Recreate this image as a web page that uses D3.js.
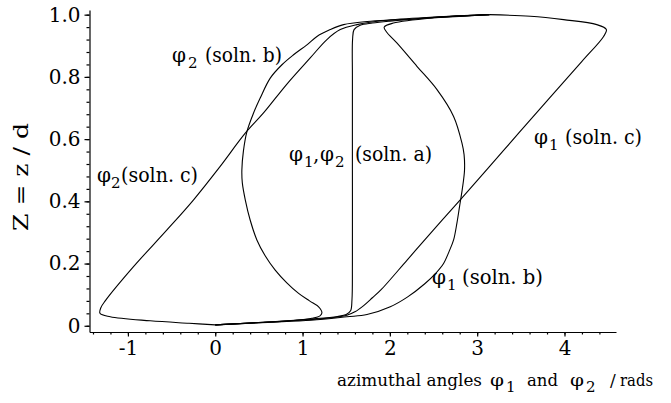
<!DOCTYPE html>
<html>
<head>
<meta charset="utf-8">
<script src="https://cdn.jsdelivr.net/npm/d3@7"></script>
<style>
  body { margin: 0; background: #fff; }
  svg { font-family: "DejaVu Serif"; }
  .curve { fill: none; stroke: #000; stroke-width: 1.1; }
  .axis path, .axis line { stroke: #000; stroke-width: 1.2; }
  .axis text { fill: #000; }
</style>
</head>
<body>
<svg width="671" height="403"></svg>
<script>
// curves: [phi (rad), Z]
var solnA = [[0,0.003],[0.6,0.012],[1.1,0.022],[1.4,0.03],[1.5,0.036],[1.55,0.048],[1.566,0.083],[1.571,0.2],
  [1.571,0.5],[1.571,0.8],[1.573,0.92],[1.59,0.952],[1.66,0.966],[1.8,0.973],[2.0,0.979],[2.5,0.99],[3.0,0.998],[3.14,1.0]];

var solnB_phi2 = [[0,0.003],[0.5,0.01],[0.9,0.017],[1.107,0.024],[1.2,0.032],[1.222,0.042],[1.184,0.061],[1.08,0.08],
  [0.955,0.104],[0.82,0.138],[0.687,0.179],[0.57,0.226],[0.477,0.276],[0.4,0.34],[0.344,0.405],[0.31,0.46],
  [0.305,0.501],[0.322,0.56],[0.363,0.624],[0.439,0.684],[0.515,0.732],[0.63,0.796],[0.764,0.839],[0.897,0.871],
  [1.05,0.903],[1.165,0.93],[1.317,0.952],[1.47,0.968],[1.74,0.978],[2.12,0.984],[2.6,0.993],[3.14,1.0]];

var solnB_phi1 = [[0,0.003],[0.6,0.011],[1.1,0.018],[1.508,0.029],[1.738,0.036],[2.005,0.061],[2.2,0.092],[2.4,0.135],
  [2.53,0.17],[2.615,0.2],[2.68,0.24],[2.73,0.276],[2.768,0.33],[2.798,0.383],[2.83,0.44],[2.855,0.5],[2.85,0.55],
  [2.826,0.587],[2.73,0.673],[2.54,0.759],[2.31,0.834],[2.08,0.909],[1.96,0.945],[1.935,0.96],[2.04,0.973],
  [2.5,0.99],[3.14,1.0]];

var solnC_phi2 = [[0,0.003],[-0.3,0.008],[-0.745,0.016],[-1.203,0.029],[-1.32,0.04],[-1.31,0.058],[-1.26,0.08],
  [-0.936,0.19],[-0.553,0.308],[-0.248,0.405],[0.05,0.51],[0.344,0.619],[0.553,0.684],[0.821,0.777],[1.088,0.861],
  [1.279,0.92],[1.432,0.952],[1.623,0.968],[1.93,0.981],[2.5,0.992],[3.14,1.0]];

var solnC_phi1 = [[0,0.003],[0.6,0.012],[1.1,0.02],[1.508,0.034],[1.6,0.045],[1.7,0.065],[1.8,0.09],[1.9,0.116],
  [2.2,0.212],[2.5,0.308],[2.806,0.405],[3.3,0.563],[3.8,0.723],[4.2,0.85],[4.448,0.93],[4.48,0.952],[4.37,0.968],
  [3.99,0.984],[3.61,0.995],[3.14,1.0]];

var curves = [solnA, solnB_phi2, solnB_phi1, solnC_phi2, solnC_phi1];

var xTicks = [-1, 0, 1, 2, 3, 4];
var yTicks = [0, 0.2, 0.4, 0.6, 0.8, 1.0];

var svg = d3.select("svg");
var margin = {left: 89.5, top: 10, right: 55, bottom: 71};
var width = 671 - margin.left - margin.right;
var height = 403 - margin.top - margin.bottom;

var x = d3.scaleLinear().domain([-1.44, 4.59]).range([0, width]);
var y = d3.scaleLinear().domain([-0.02, 1.015]).range([height, 0]);

var g = svg.append("g").attr("transform", "translate(" + margin.left + "," + margin.top + ")");

// minor ticks
g.append("g").attr("class", "axis")
  .attr("transform", "translate(0," + height + ")")
  .call(d3.axisBottom(x).tickValues(d3.range(-1.4, 4.59, 0.2)).tickSize(2.5).tickFormat(""))
  .select(".domain").remove();
g.append("g").attr("class", "axis")
  .call(d3.axisLeft(y).tickValues(d3.range(0, 1.001, 0.04)).tickSize(3).tickFormat(""))
  .select(".domain").remove();

var xAxis = g.append("g").attr("class", "axis")
  .attr("transform", "translate(0," + height + ")")
  .call(d3.axisBottom(x).tickValues(xTicks).tickSize(4.5).tickSizeOuter(0).tickPadding(4)
    .tickFormat(function(d) { return d < 0 ? "-" + Math.abs(d) : d; }));

var yAxis = g.append("g").attr("class", "axis")
  .call(d3.axisLeft(y).tickValues(yTicks).tickSize(5).tickSizeOuter(0).tickPadding(4)
    .tickFormat(function(d) { return d === 0 ? "0" : d3.format(".1f")(d); }));

xAxis.attr("font-family", "DejaVu Serif").attr("font-size", 20);
yAxis.attr("font-family", "DejaVu Serif").attr("font-size", 20);

var line = d3.line()
  .x(function(d) { return x(d[0]); })
  .y(function(d) { return y(d[1]); })
  .curve(d3.curveCatmullRom.alpha(0.5));

g.selectAll("path.curve")
  .data(curves)
  .enter().append("path")
  .attr("class", "curve")
  .attr("d", line);

// label pieces: {t, x, w (fit width), sub}
function label(by, size, pieces) {
  pieces.forEach(function(p) {
    var t = svg.append("text")
      .attr("x", p.x)
      .attr("y", p.sub ? by + 6 : by)
      .attr("font-size", p.sub ? 15 : size)
      .style("white-space", "pre")
      .text(p.t);
    if (p.w) t.attr("textLength", p.w).attr("lengthAdjust", "spacingAndGlyphs");
  });
}

label(62, 20, [{t: "φ", x: 172, w: 14}, {t: "2", x: 188, sub: true}, {t: "(soln. b)", x: 205, w: 77}]);
label(182, 20, [{t: "φ", x: 97, w: 14}, {t: "2", x: 111, sub: true}, {t: "(soln. c)", x: 121, w: 77}]);
label(161, 20, [{t: "φ", x: 289, w: 14}, {t: "1", x: 304, sub: true}, {t: ",", x: 313}, {t: "φ", x: 320, w: 14},
  {t: "2", x: 335, sub: true}, {t: "(soln. a)", x: 355, w: 77}]);
label(144, 20, [{t: "φ", x: 534, w: 14}, {t: "1", x: 549, sub: true}, {t: "(soln. c)", x: 565, w: 77}]);
label(284, 20, [{t: "φ", x: 432, w: 14}, {t: "1", x: 447, sub: true}, {t: "(soln. b)", x: 462, w: 81}]);

label(386, 17, [{t: "azimuthal angles", x: 337, w: 145}, {t: "φ", x: 490, w: 14}, {t: "1", x: 506, sub: true},
  {t: "and", x: 527, w: 31}, {t: "φ", x: 570, w: 14}, {t: "2", x: 586, sub: true},
  {t: "/", x: 610}, {t: "rads", x: 620, w: 33}]);

svg.append("text")
  .attr("transform", "translate(28,177) rotate(-90)")
  .attr("x", -54)
  .attr("font-size", 21)
  .attr("textLength", 108).attr("lengthAdjust", "spacingAndGlyphs")
  .style("white-space", "pre")
  .text("Z = z / d");
</script>
</body>
</html>
